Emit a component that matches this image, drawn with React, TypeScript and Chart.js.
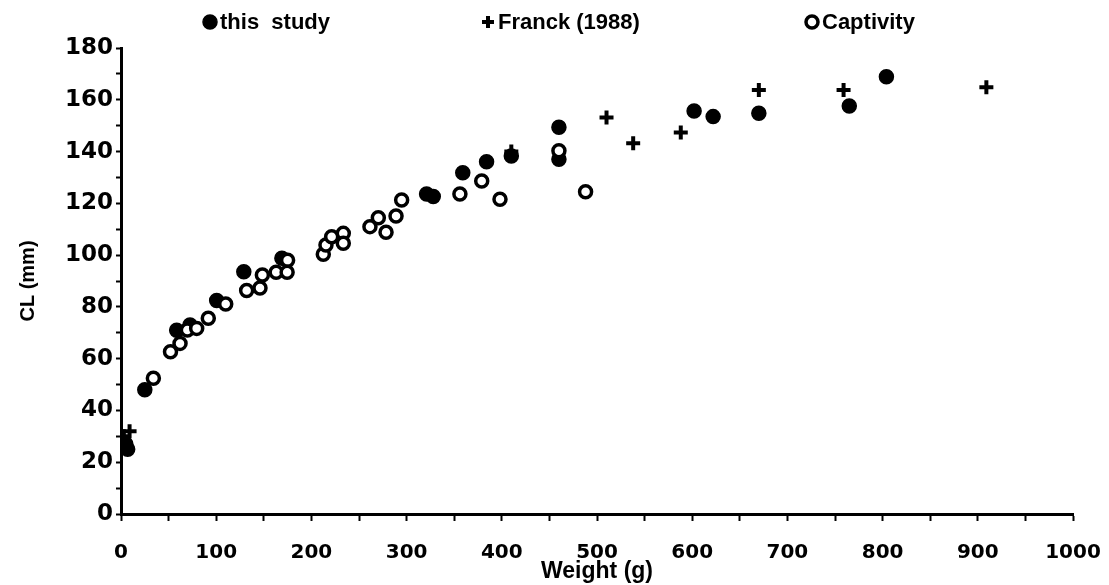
import React, { useEffect, useRef } from "react";
import { Chart, registerables } from "chart.js";

Chart.register(...registerables);

const seriesNames = ["this study", "Franck (1988)", "Captivity"];

const thisStudyX = [5, 7, 25, 58.5, 72.5, 100.5, 129, 169, 321, 328, 359, 384, 410, 460, 460, 602, 622, 670, 765, 804];
const thisStudyY = [27, 25, 48, 71, 73, 82.5, 93.6, 98.8, 123.6, 122.6, 131.8, 136.1, 138.3, 149.4, 137, 155.7, 153.5, 154.8, 157.6, 168.9];

const franckX = [3, 9, 410, 510, 538, 588, 670, 759, 909];
const franckY = [30, 32, 140, 153.2, 143.2, 147.4, 163.8, 163.8, 164.8];

const captivityX = [34, 52, 62, 69.7, 79.5, 91.7, 110, 132, 146, 148.5, 163, 175, 174.5, 212.5, 215.3, 221.3, 233.5, 233.5, 261.5, 270.3, 278.4, 288.9, 294.8, 356, 378.9, 398.1, 460, 488];
const captivityY = [52.4, 62.7, 65.9, 71.1, 71.7, 75.6, 81.1, 86.3, 87.3, 92.3, 93.4, 98, 93.4, 100.3, 103.9, 107.1, 108.4, 104.6, 111, 114.4, 108.8, 115.1, 121.3, 123.6, 128.6, 121.6, 140.3, 124.5];

const xTickLabels = ["0", "100", "200", "300", "400", "500", "600", "700", "800", "900", "1000"];
const yTickLabels = ["0", "20", "40", "60", "80", "100", "120", "140", "160", "180"];

const toPoints = (xs: number[], ys: number[]) => xs.map((x, i) => ({ x, y: ys[i] }));

const legendPlugin = {
  id: "customLegend",
  afterDraw(chart: any) {
    const ctx = chart.ctx;
    const positions = [210, 488, 812];
    const y = 22;
    ctx.save();
    ctx.font = "bold 22px 'Liberation Sans', Arial, sans-serif";
    ctx.fillStyle = "#000";
    ctx.textBaseline = "middle";
    chart.data.datasets.forEach((ds: any, i: number) => {
      const mx = positions[i];
      ctx.save();
      ctx.lineWidth = ds.borderWidth;
      ctx.strokeStyle = "#000";
      ctx.fillStyle = ds.backgroundColor;
      ctx.beginPath();
      if (ds.pointStyle === "cross") {
        ctx.lineWidth = 4;
        ctx.moveTo(mx - 6, y);
        ctx.lineTo(mx + 6, y);
        ctx.moveTo(mx, y - 6);
        ctx.lineTo(mx, y + 6);
        ctx.stroke();
      } else {
        ctx.arc(mx, y, ds.pointRadius, 0, Math.PI * 2);
        ctx.fill();
        ctx.stroke();
      }
      ctx.restore();
      const label = i === 0 ? "this  study" : ds.label;
      ctx.fillText(label, mx + 10, y + 1);
    });
    ctx.restore();
  },
};

export default function App() {
  const ref = useRef<HTMLCanvasElement>(null);
  useEffect(() => {
    document.body.style.margin = "0";
    const canvas = ref.current!;
    const chart = new Chart(canvas, {
      type: "scatter",
      data: {
        datasets: [
          {
            label: seriesNames[0],
            data: toPoints(thisStudyX, thisStudyY),
            pointStyle: "circle",
            pointRadius: 7,
            borderWidth: 1.5,
            backgroundColor: "#000",
            borderColor: "#000",
            order: 2,
          } as any,
          {
            label: seriesNames[1],
            data: toPoints(franckX, franckY),
            pointStyle: "cross",
            pointRadius: 7,
            borderWidth: 4,
            backgroundColor: "#000",
            borderColor: "#000",
            order: 3,
          },
          {
            label: seriesNames[2],
            data: toPoints(captivityX, captivityY),
            pointStyle: "circle",
            pointRadius: 6,
            borderWidth: 3.5,
            backgroundColor: "#fff",
            borderColor: "#000",
            order: 1,
          },
        ],
      },
      options: {
        responsive: false,
        animation: false,
        devicePixelRatio: 1,
        layout: { padding: { top: 48, right: 36, left: 0, bottom: 0 } },
        plugins: { legend: { display: false }, tooltip: { enabled: false } },
        scales: {
          x: {
            type: "linear",
            min: 0,
            max: 1000,
            afterFit: (s: any) => {
              s.height = 71;
              s.paddingLeft = 0;
              s.paddingRight = 0;
            },
            afterBuildTicks: (s: any) => {
              const t = [];
              for (let v = 0; v <= 1000; v += 50) t.push({ value: v });
              s.ticks = t;
            },
            ticks: {
              autoSkip: false,
              maxRotation: 0,
              padding: 20,
              color: "#000",
              font: { family: "'DejaVu Sans', sans-serif", weight: "bold", size: 20 },
              callback: (v: any) => (v % 100 === 0 ? xTickLabels[v / 100] : ""),
            },
            grid: { drawOnChartArea: false, tickLength: 7, tickWidth: 2, tickColor: "#000" },
            border: { color: "#000", width: 3 },
            title: {
              display: true,
              text: "Weight (g)",
              color: "#000",
              font: { family: "'Liberation Sans', Arial, sans-serif", weight: "bold", size: 23 },
              padding: { top: 0, bottom: 0 },
            },
          },
          y: {
            type: "linear",
            min: 0,
            max: 180,
            afterFit: (s: any) => {
              s.width = 121;
              s.paddingTop = 0;
              s.paddingBottom = 0;
            },
            afterBuildTicks: (s: any) => {
              const t = [];
              for (let v = 0; v <= 180; v += 10) t.push({ value: v });
              s.ticks = t;
            },
            ticks: {
              autoSkip: false,
              padding: 3,
              color: "#000",
              font: { family: "'DejaVu Sans', sans-serif", weight: "bold", size: 23 },
              callback: (v: any) => (v % 20 === 0 ? yTickLabels[v / 20] : ""),
            },
            grid: { drawOnChartArea: false, tickLength: 5, tickWidth: 2, tickColor: "#000" },
            border: { color: "#000", width: 3 },
            title: {
              display: true,
              text: "CL (mm)",
              color: "#000",
              font: { family: "'Liberation Sans', Arial, sans-serif", weight: "bold", size: 20 },
              padding: { top: 16, bottom: 0 },
            },
          },
        },
      },
      plugins: [legendPlugin],
    });
    return () => chart.destroy();
  }, []);
  return (
    <div style={{ position: "absolute", left: 0, top: 0, width: 1109, height: 585, background: "#fff" }}>
      <canvas ref={ref} width={1109} height={585} />
    </div>
  );
}
